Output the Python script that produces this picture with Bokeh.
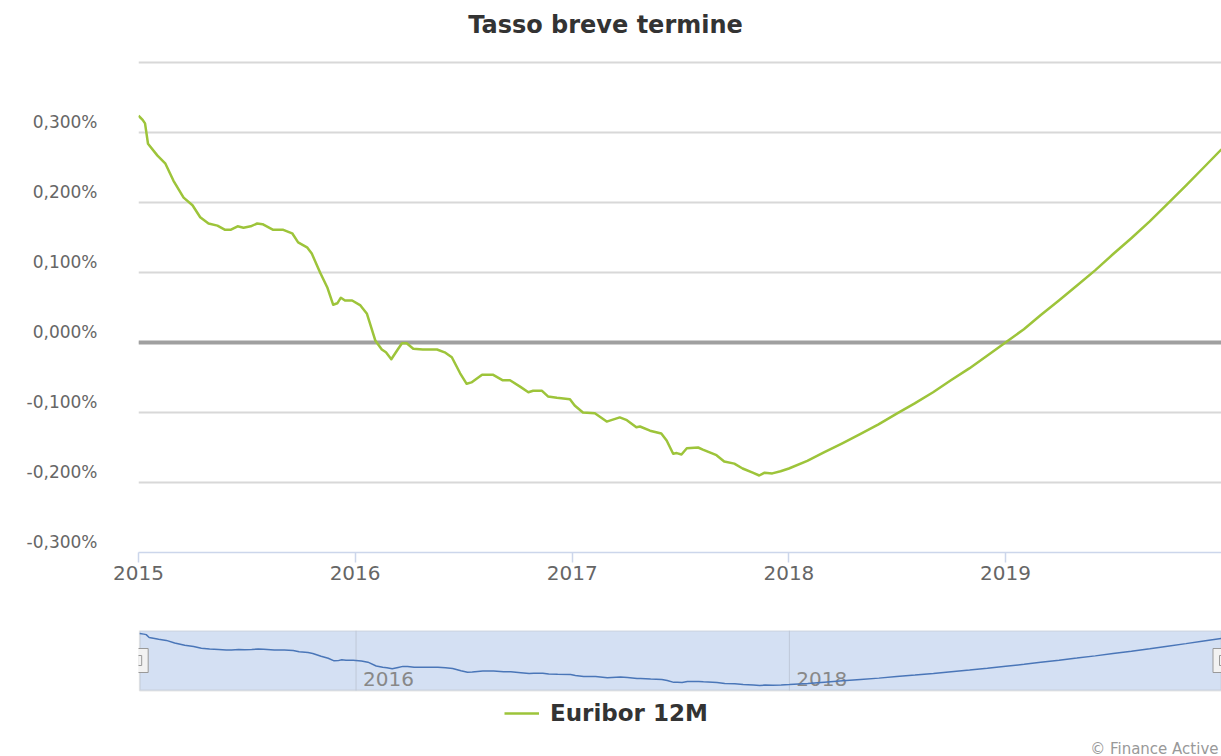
import pandas as pd
from bokeh.plotting import figure
from bokeh.models import (ColumnDataSource, Range1d, FixedTicker, CustomJSTickFormatter,
                          Span, BoxAnnotation, Legend, LegendItem, Label, LinearAxis)
from bokeh.layouts import column
from bokeh.core.properties import value
from bokeh.embed import file_html
from bokeh.resources import INLINE

# ---------------- data ----------------
title_text = "Tasso breve termine"
series_name = "Euribor 12M"
credit_text = "© Finance Active"

hist_dates = [
    "2015-01-01", "2015-01-08", "2015-01-12", "2015-01-17", "2015-02-02", "2015-02-15",
    "2015-03-01", "2015-03-18", "2015-04-02", "2015-04-15", "2015-04-29", "2015-05-14",
    "2015-05-27", "2015-06-05", "2015-06-17", "2015-06-27", "2015-07-09", "2015-07-20",
    "2015-07-29", "2015-08-16", "2015-09-02", "2015-09-17", "2015-09-27", "2015-10-12",
    "2015-10-20", "2015-11-03", "2015-11-15", "2015-11-25", "2015-12-02", "2015-12-08",
    "2015-12-15", "2015-12-27", "2016-01-10", "2016-01-21", "2016-02-04", "2016-02-15",
    "2016-02-22", "2016-03-02", "2016-03-12", "2016-03-20", "2016-03-28", "2016-04-08",
    "2016-04-24", "2016-05-18", "2016-05-31", "2016-06-12", "2016-06-26", "2016-07-07",
    "2016-07-15", "2016-08-02", "2016-08-20", "2016-09-06", "2016-09-18", "2016-10-05",
    "2016-10-19", "2016-10-27", "2016-11-11", "2016-11-21", "2016-12-06", "2016-12-28",
    "2017-01-05", "2017-01-19", "2017-02-08", "2017-02-28", "2017-03-22", "2017-04-03",
    "2017-04-19", "2017-04-25", "2017-05-12", "2017-05-31", "2017-06-09", "2017-06-20",
    "2017-06-26", "2017-07-04", "2017-07-13", "2017-08-01", "2017-08-09", "2017-09-01",
    "2017-09-14", "2017-10-01", "2017-10-15", "2017-11-01", "2017-11-12", "2017-11-21",
    "2017-12-04", "2017-12-18",
]
hist_values = [
    0.324, 0.318, 0.313, 0.284, 0.267, 0.256,
    0.231, 0.207, 0.196, 0.179, 0.170, 0.167,
    0.161, 0.161, 0.166, 0.164, 0.166, 0.170,
    0.169, 0.161, 0.161, 0.156, 0.143, 0.136,
    0.127, 0.100, 0.079, 0.054, 0.056, 0.064,
    0.060, 0.060, 0.053, 0.041, 0.003, -0.010,
    -0.014, -0.024, -0.011, -0.001, -0.001, -0.009,
    -0.010, -0.010, -0.014, -0.021, -0.044, -0.059,
    -0.057, -0.046, -0.046, -0.054, -0.054, -0.063,
    -0.071, -0.069, -0.069, -0.077, -0.079, -0.081,
    -0.090, -0.100, -0.101, -0.113, -0.107, -0.111,
    -0.121, -0.120, -0.126, -0.130, -0.140, -0.159,
    -0.158, -0.160, -0.151, -0.150, -0.153, -0.161,
    -0.170, -0.173, -0.180, -0.186, -0.190, -0.186,
    -0.187, -0.184,
]
fc_dates = [
    "2018-01-01", "2018-02-01", "2018-03-01", "2018-04-01", "2018-05-01", "2018-06-01",
    "2018-07-01", "2018-08-01", "2018-09-01", "2018-10-01", "2018-11-01", "2018-12-01",
    "2019-01-01", "2019-02-01", "2019-03-01", "2019-04-01", "2019-05-01", "2019-06-01",
    "2019-07-01", "2019-08-01", "2019-09-01", "2019-10-01", "2019-11-01", "2019-12-01",
    "2019-12-31",
]
fc_values = [
    -0.180, -0.169, -0.157, -0.144, -0.131, -0.117,
    -0.102, -0.087, -0.071, -0.054, -0.037, -0.019,
    0.000, 0.019, 0.039, 0.060, 0.081, 0.103,
    0.126, 0.149, 0.173, 0.198, 0.224, 0.250,
    0.276,
]

x_tick_dates = ["2015-01-01", "2016-01-01", "2017-01-01", "2018-01-01", "2019-01-01"]
x_tick_labels = ["2015", "2016", "2017", "2018", "2019"]
y_ticks = [-0.3, -0.2, -0.1, 0.0, 0.1, 0.2, 0.3]
y_tick_labels = ["-0,300%", "-0,200%", "-0,100%", "0,000%", "0,100%", "0,200%", "0,300%"]
y_grid_values = [-0.3, -0.2, -0.1, 0.0, 0.1, 0.2, 0.3, 0.4]
nav_tick_dates = ["2016-01-01", "2018-01-01"]
nav_tick_labels = ["2016", "2018"]

x_start_date = "2015-01-01"
x_end_date = "2019-12-31"
y_min, y_max = -0.3, 0.4

# ---------------- styles / layout ----------------
GREEN = "#9dc43a"
NAV_BLUE = "#4a76b8"
FONT = "DejaVu Sans"
W = 1221
MAIN_H = 608
PLOT_LEFT = 138
GRID_TOP = 62        # pixel row of the top grid line
AXIS_Y = 552         # pixel row of the x axis
TITLE_Y = 24
TITLE_X = 605


def ms(s):
    return pd.Timestamp(s).value / 1e6


dates = pd.to_datetime(hist_dates + fc_dates)
values = hist_values + fc_values
src = ColumnDataSource(dict(x=dates, y=values))

x_start = pd.Timestamp(x_start_date)
x_end = pd.Timestamp(x_end_date)

# ---------------- main chart ----------------
per_px = (y_max - y_min) / (AXIS_Y - GRID_TOP)
y_top = y_max + per_px * GRID_TOP          # frame reaches the top of the canvas (title area)

p = figure(width=W, height=MAIN_H, x_axis_type="datetime",
           x_range=Range1d(x_start, x_end), y_range=Range1d(y_min, y_top),
           output_backend="svg", toolbar_location=None,
           min_border_left=PLOT_LEFT, min_border_right=0, min_border_top=0,
           min_border_bottom=MAIN_H - AXIS_Y)
p.outline_line_color = None
p.background_fill_color = "white"
p.border_fill_color = "white"

p.xgrid.grid_line_color = None
p.ygrid.ticker = FixedTicker(ticks=y_grid_values)
p.ygrid.grid_line_color = "#d8d8d8"
p.ygrid.grid_line_width = 2

x_tick_ms = [ms(d) for d in x_tick_dates]
p.xaxis.ticker = FixedTicker(ticks=x_tick_ms)
p.xaxis.formatter = CustomJSTickFormatter(
    args=dict(tvals=x_tick_ms, tlabels=x_tick_labels),
    code="const i = tvals.findIndex(t => Math.abs(t - tick) < 1); return i >= 0 ? tlabels[i] : '';")
p.xaxis.axis_line_color = "#ccd6eb"
p.xaxis.axis_line_width = 1.5
p.xaxis.major_tick_line_color = "#ccd6eb"
p.xaxis.major_tick_line_width = 1.5
p.xaxis.major_tick_out = 10
p.xaxis.major_tick_in = 0
p.xaxis.minor_tick_line_color = None
p.xaxis.major_label_text_font = FONT
p.xaxis.major_label_text_font_size = "20px"
p.xaxis.major_label_text_color = "#666666"
p.xaxis.major_label_standoff = 3

# y labels sit slightly above their grid lines: label axis on a shifted range
p.yaxis.visible = False
shift = 10.5 * per_px
p.extra_y_ranges = {"labels": Range1d(y_min - shift, y_top - shift)}
yax = LinearAxis(y_range_name="labels")
yax.ticker = FixedTicker(ticks=y_ticks)
yax.formatter = CustomJSTickFormatter(
    args=dict(tvals=y_ticks, tlabels=y_tick_labels),
    code="const i = tvals.findIndex(t => Math.abs(t - tick) < 1e-9); return i >= 0 ? tlabels[i] : '';")
yax.axis_line_color = None
yax.major_tick_line_color = None
yax.minor_tick_line_color = None
yax.major_label_text_font = FONT
yax.major_label_text_font_size = "17px"
yax.major_label_text_color = "#666666"
yax.major_label_standoff = 35
p.add_layout(yax, "left")

p.add_layout(Span(location=0, dimension="width", line_color="#a0a0a0",
                  line_width=4, level="underlay"))

main_line = p.line("x", "y", source=src, line_color=GREEN, line_width=2.5, line_join="round")

title_x = ms(x_start_date) + (ms(x_end_date) - ms(x_start_date)) * (TITLE_X - PLOT_LEFT) / (W - PLOT_LEFT)
p.add_layout(Label(x=title_x, y=y_top, y_offset=-TITLE_Y, text=title_text,
                   text_align="center", text_baseline="middle",
                   text_font=FONT, text_font_size="24px", text_font_style="bold",
                   text_color="#333333"))

# ---------------- navigator + legend + credit ----------------
NAV_H = 756 - MAIN_H          # 148
NAV_TOP, NAV_BOX_H = 22, 60
nav_frame_h = NAV_H - NAV_TOP
nav_ymin = min(values)
nav_ymax = max(values)
span_y = nav_ymax - nav_ymin
nav_y0 = nav_ymin - span_y * 0.096   # value at the bottom edge of the navigator box
nav_y1 = nav_ymax + span_y * 0.058   # value at the top edge of the navigator box
nav_per_px = (nav_y1 - nav_y0) / NAV_BOX_H
frame_y0 = nav_y0 - nav_per_px * (nav_frame_h - NAV_BOX_H)
nav_start = x_start - pd.Timedelta(days=2)   # frames are aligned with the main chart

p2 = figure(width=W, height=NAV_H, x_axis_type="datetime",
            x_range=Range1d(nav_start, x_end), y_range=Range1d(frame_y0, nav_y1),
            x_axis_location=None, y_axis_location=None,
            output_backend="svg", toolbar_location=None,
            min_border_left=PLOT_LEFT, min_border_right=0, min_border_top=NAV_TOP,
            min_border_bottom=0)
p2.outline_line_color = None
p2.background_fill_color = "white"
p2.border_fill_color = "white"
p2.xgrid.grid_line_color = None
p2.ygrid.grid_line_color = None

p2.add_layout(BoxAnnotation(left=ms(x_start_date), right=ms(x_end_date),
                            bottom=nav_y0, top=nav_y1,
                            fill_color="#d4e0f3", fill_alpha=1.0,
                            line_color="#ababab", line_width=2, level="image"))

nav_tick_x = pd.to_datetime(nav_tick_dates)
p2.segment(x0=nav_tick_x, y0=[nav_y0] * len(nav_tick_dates),
           x1=nav_tick_x, y1=[nav_y1] * len(nav_tick_dates),
           line_color="#bfc8d8", line_width=1)
p2.text(x=nav_tick_x, y=[nav_y0] * len(nav_tick_dates), text=nav_tick_labels,
        x_offset=7, y_offset=-12, text_baseline="alphabetic", text_align="left",
        text_font=value(FONT), text_font_size="20px", text_color="#888888")

p2.line("x", "y", source=src, line_color=NAV_BLUE, line_width=1.5)

handle_x = pd.to_datetime([x_start_date, x_end_date])
handle_y = [(nav_y0 + nav_y1) / 2] * 2
p2.rect(x=handle_x, y=handle_y, width=17, height=24, width_units="screen", height_units="screen",
        fill_color="#f2f2f2", line_color="#999999", line_width=1)
p2.rect(x=handle_x, y=handle_y, width=4, height=10, width_units="screen", height_units="screen",
        fill_color=None, line_color="#999999", line_width=1)

# legend sample: the series drawn on an out-of-view range so only its legend glyph shows
p2.extra_y_ranges = {"legend_only": Range1d(100, 101)}
legend_line = p2.line("x", "y", source=src, y_range_name="legend_only",
                      line_color=GREEN, line_width=2.5)
legend = Legend(items=[LegendItem(label=series_name, renderers=[legend_line])],
                location=(366, 30), orientation="horizontal",
                padding=0, margin=0, border_line_color=None, background_fill_alpha=0,
                glyph_width=35, glyph_height=20, label_standoff=11,
                label_text_font=FONT, label_text_font_size="23px",
                label_text_font_style="bold", label_text_color="#333333")
p2.add_layout(legend, "center")

p2.add_layout(Label(x=ms(x_end_date), y=frame_y0, text=credit_text,
                    x_offset=-3, y_offset=8, text_align="right", text_baseline="alphabetic",
                    text_font=FONT, text_font_size="15px", text_color="#999999"))

layout = column(p, p2, spacing=0)
open("out.html", "w").write(file_html(layout, INLINE))
